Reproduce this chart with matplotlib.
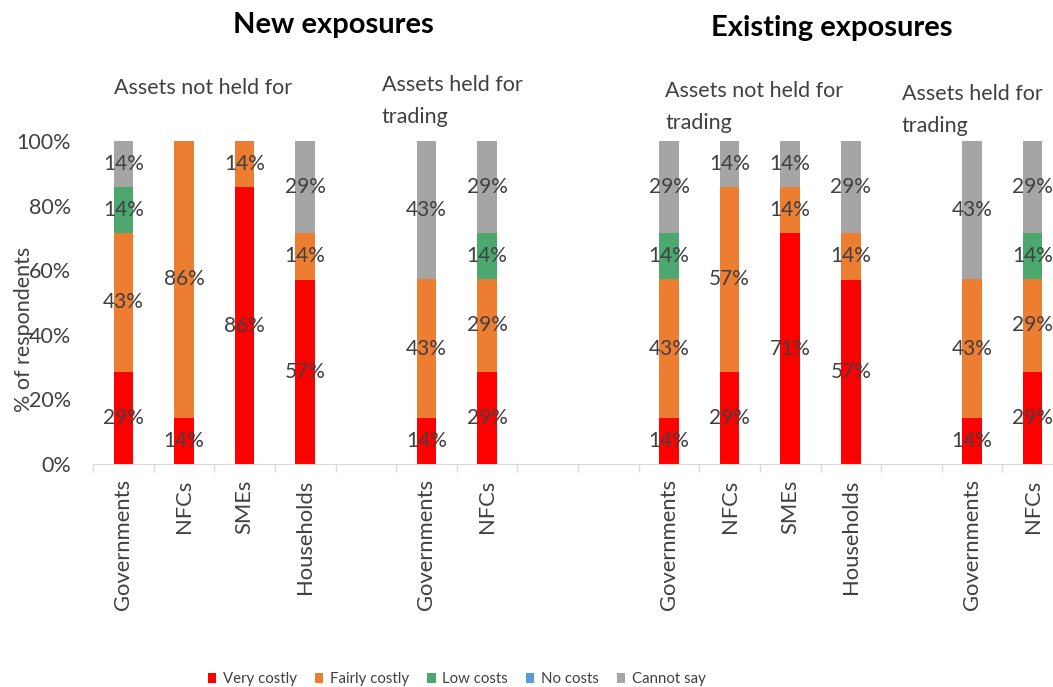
import matplotlib
matplotlib.use('Agg')
from matplotlib import pyplot as plt
from matplotlib.patches import Patch

plt.rcParams['font.family'] = ['Lato', 'DejaVu Sans']

# slot index of each bar on the category axis (empty slots act as gaps)
slots = [0, 1, 2, 3, 5, 6, 9, 10, 11, 12, 14, 15]
categories = ['Governments', 'NFCs', 'SMEs', 'Households',
              'Governments', 'NFCs',
              'Governments', 'NFCs', 'SMEs', 'Households',
              'Governments', 'NFCs']

series_names = ['Very costly', 'Fairly costly', 'Low costs', 'No costs', 'Cannot say']
very_costly   = [28.6, 14.3, 85.7, 57.1, 14.3, 28.6, 14.3, 28.6, 71.4, 57.1, 14.3, 28.6]
fairly_costly = [42.9, 85.7, 14.3, 14.3, 42.9, 28.6, 42.9, 57.1, 14.3, 14.3, 42.9, 28.6]
low_costs     = [14.3, 0, 0, 0, 0, 14.3, 14.3, 0, 0, 0, 0, 14.3]
no_costs      = [0, 0, 0, 0, 0, 0, 0, 0, 0, 0, 0, 0]
cannot_say    = [14.3, 0, 0, 28.6, 42.9, 28.6, 28.6, 14.3, 14.3, 28.6, 42.9, 28.6]

colors = ['#FF0000', '#ED7D31', '#4CA86F', '#5B9BD5', '#A5A5A5']
label_col = '#404040'
W, H = 1053, 687

fig = plt.figure(figsize=(W/100, H/100), dpi=100)
ax = fig.add_axes([93/W, (H-464)/H, 970/W, 323/H])

bottom = [0]*len(slots)
for name, vals, col in zip(series_names,
                           [very_costly, fairly_costly, low_costs, no_costs, cannot_say],
                           colors):
    ax.bar(slots, vals, width=0.32, bottom=bottom, color=col, zorder=2)
    for x, b, v in zip(slots, bottom, vals):
        if v > 0:
            ax.text(x, b + v/2, '{:.0f}%'.format(v), ha='center', va='center',
                    color=label_col, fontsize=15, zorder=3)
    bottom = [b + v for b, v in zip(bottom, vals)]

ax.set_xlim(-0.5, 15.5)
ax.set_ylim(0, 100)
ax.set_xticks(slots)
ax.set_xticklabels(categories, rotation=90, fontsize=15.8, color=label_col)
ax.set_xticks([i - 0.5 for i in range(17)], minor=True)
ax.tick_params(axis='x', which='major', length=0, pad=11)
ax.tick_params(axis='x', which='minor', length=6, color='#D9D9D9', width=1)
ax.set_yticks([0, 20, 40, 60, 80, 100])
ax.set_yticklabels(['0%', '20%', '40%', '60%', '80%', '100%'], fontsize=15.5, color=label_col)
ax.tick_params(axis='y', length=0, pad=16)
for s in ['top', 'right', 'left']:
    ax.spines[s].set_visible(False)
ax.spines['bottom'].set_color('#D9D9D9')

fig.text(24/W, 1 - 329/H, '% of respondents', rotation=90, ha='center', va='center',
         fontsize=15.5, color=label_col)

fig.text(333/W, 1 - 25/H, 'New exposures', ha='center', va='center',
         fontsize=21, fontweight='bold', color='black')
fig.text(832/W, 1 - 28/H, 'Existing exposures', ha='center', va='center',
         fontsize=21, fontweight='bold', color='black')

sub = dict(ha='left', va='center', fontsize=15.5, color=label_col, linespacing=1.7)
fig.text(114/W, 1 - 88/H, 'Assets not held for', **sub)
fig.text(382/W, 1 - 101/H, 'Assets held for\ntrading', **sub)
fig.text(665/W, 1 - 107/H, 'Assets not held for\ntrading', **sub)
fig.text(902/W, 1 - 110/H, 'Assets held for\ntrading', **sub)

handles = [Patch(facecolor=c, label=n) for c, n in zip(colors, series_names)]
fig.legend(handles=handles, loc='center', bbox_to_anchor=(457/W, 8/H), ncol=5,
           frameon=False, fontsize=10.8, handlelength=0.55, handleheight=0.7,
           handletextpad=0.45, columnspacing=1.2, labelcolor=label_col)

fig.savefig('out.png', dpi=100)
